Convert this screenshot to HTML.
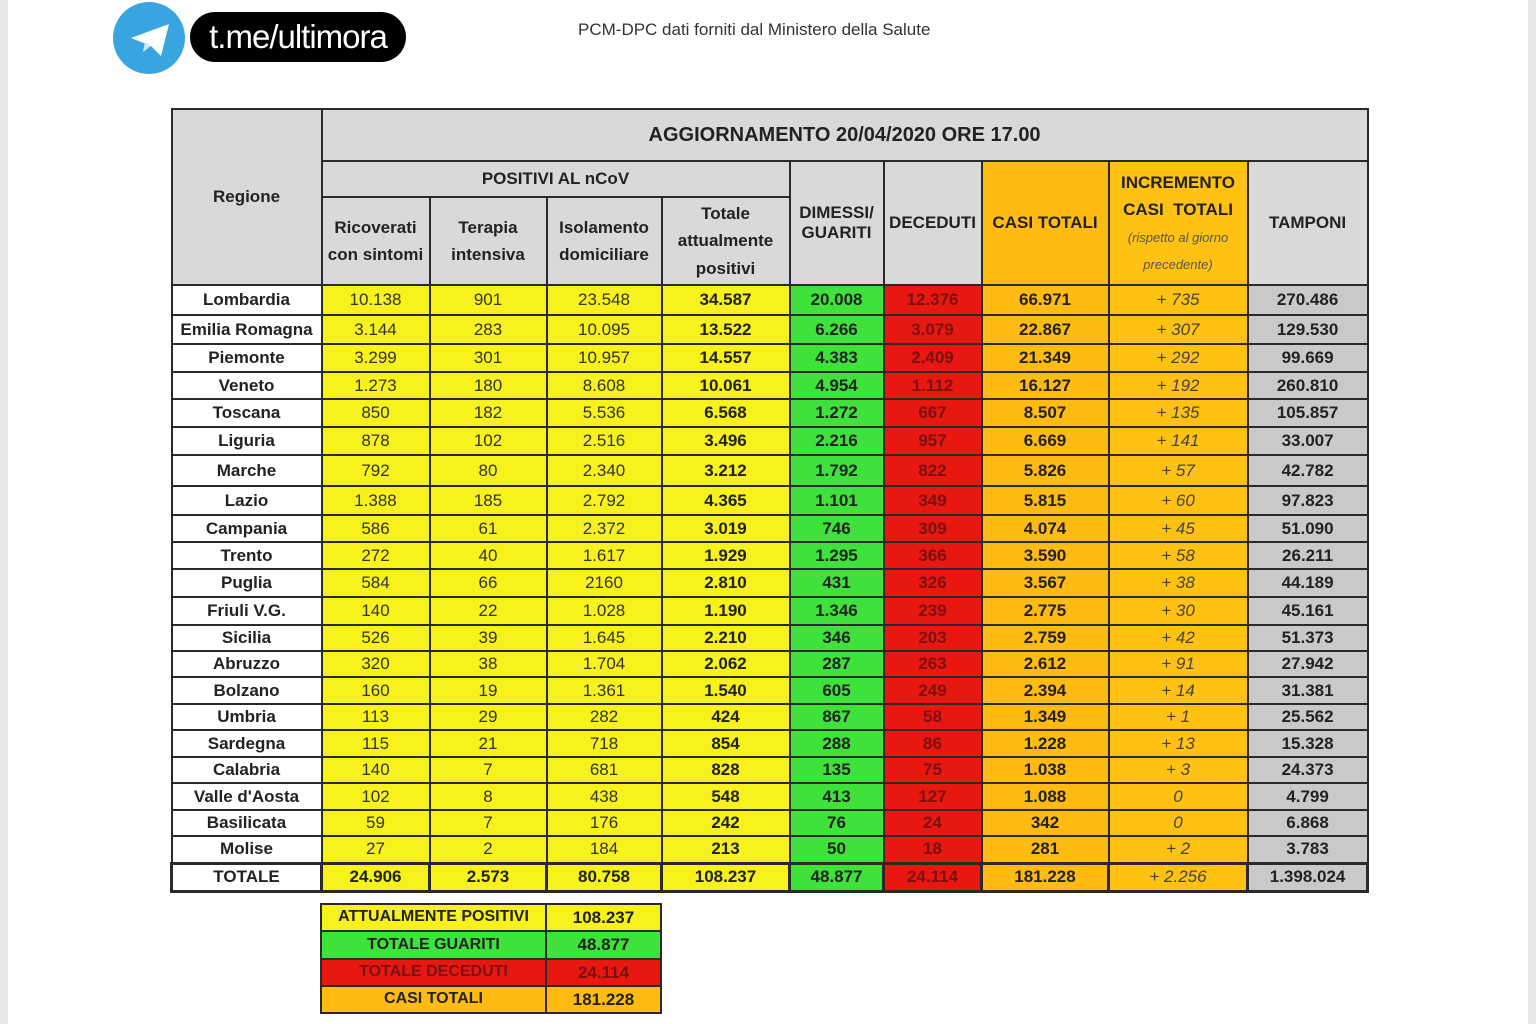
<!DOCTYPE html>
<html><head><meta charset="utf-8"><style>
body{margin:0;width:1536px;height:1024px;background:#fff;position:relative;overflow:hidden;font-family:"Liberation Sans",sans-serif;}
.edge{position:absolute;top:0;bottom:0;width:8px;background:#e8e8e8}
table{border-collapse:collapse;table-layout:fixed;position:absolute;}
td{border:2px solid #2a2a2a;text-align:center;padding:0;font-size:17px;color:#333;line-height:1.15;overflow:hidden;white-space:nowrap}
#t td{font-size:17px}
.h{background:#d9d9d9;font-weight:bold;color:#222;font-size:16px;white-space:normal}
.r{font-weight:bold;color:#222;background:#fff}
.y{background:#f7f21c}
.yb{background:#f7f21c;font-weight:bold;color:#222}
.g{background:#3ee23a;font-weight:bold;color:#222}
.d{background:#e8170f;color:#7a1010;font-weight:bold}
.o{background:#ffbb12;font-weight:bold;color:#222}
.i{background:#ffc213;font-style:italic;color:#444}
.p{background:#c9c9c9;font-weight:bold;color:#222}
.ho{background:#ffbb12;font-weight:bold;color:#222;font-size:16px;white-space:normal}
.hi{background:#ffc213;font-weight:bold;color:#222;font-size:16px;white-space:normal}
tr.tot td{border-width:3px}
</style></head><body>
<div class="edge" style="left:0"></div><div class="edge" style="right:0"></div>
<div style="position:absolute;left:113px;top:2px;width:72px;height:72px;border-radius:50%;background:#38a5e0"></div>
<svg style="position:absolute;left:113px;top:2px" width="72" height="72"><path d="M18 36 L56 22 L48 54 L38 44 Z" fill="#fff"/><path d="M38 44 L30 50 L32 40 Z" fill="#d0e8f5"/></svg>
<div style="position:absolute;left:190px;top:12px;width:216px;height:50px;border-radius:25px;background:#000;color:#fff;font-size:33px;line-height:50px;text-align:center;letter-spacing:-1px">t.me/ultimora</div>
<div style="position:absolute;left:578px;top:20px;font-size:17px;color:#333">PCM-DPC dati forniti dal Ministero della Salute</div>

<table id="t" style="left:170px;top:108px;width:1196px">
<colgroup><col style="width:150px"><col style="width:108px"><col style="width:117px"><col style="width:115px"><col style="width:128px"><col style="width:94px"><col style="width:98px"><col style="width:127px"><col style="width:139px"><col style="width:120px"></colgroup>
<tr style="height:52px"><td class="h" rowspan="3" style="background:#d9d9d9">Regione</td><td class="h" colspan="9" style="font-size:20px">AGGIORNAMENTO 20/04/2020 ORE 17.00</td></tr>
<tr style="height:36px"><td class="h" colspan="4">POSITIVI AL nCoV</td><td class="h" rowspan="2">DIMESSI/<br>GUARITI</td><td class="h" rowspan="2">DECEDUTI</td><td class="ho" rowspan="2">CASI TOTALI</td><td class="hi" rowspan="2" style="line-height:1.6">INCREMENTO<br>CASI&nbsp; TOTALI<br><span style="font-size:13px;font-weight:normal;font-style:italic;color:#555;line-height:1.5">(rispetto al giorno<br>precedente)</span></td><td class="h" rowspan="2">TAMPONI</td></tr>
<tr style="height:88px"><td class="h" style="line-height:1.6">Ricoverati<br>con sintomi</td><td class="h" style="line-height:1.6">Terapia<br>intensiva</td><td class="h" style="line-height:1.6">Isolamento<br>domiciliare</td><td class="h" style="line-height:1.6">Totale<br>attualmente<br>positivi</td></tr>
<tr style="height:30px"><td class="r">Lombardia</td><td class="y">10.138</td><td class="y">901</td><td class="y">23.548</td><td class="yb">34.587</td><td class="g">20.008</td><td class="d">12.376</td><td class="o">66.971</td><td class="i">+ 735</td><td class="p">270.486</td></tr>
<tr style="height:29px"><td class="r">Emilia Romagna</td><td class="y">3.144</td><td class="y">283</td><td class="y">10.095</td><td class="yb">13.522</td><td class="g">6.266</td><td class="d">3.079</td><td class="o">22.867</td><td class="i">+ 307</td><td class="p">129.530</td></tr>
<tr style="height:28px"><td class="r">Piemonte</td><td class="y">3.299</td><td class="y">301</td><td class="y">10.957</td><td class="yb">14.557</td><td class="g">4.383</td><td class="d">2.409</td><td class="o">21.349</td><td class="i">+ 292</td><td class="p">99.669</td></tr>
<tr style="height:27px"><td class="r">Veneto</td><td class="y">1.273</td><td class="y">180</td><td class="y">8.608</td><td class="yb">10.061</td><td class="g">4.954</td><td class="d">1.112</td><td class="o">16.127</td><td class="i">+ 192</td><td class="p">260.810</td></tr>
<tr style="height:28px"><td class="r">Toscana</td><td class="y">850</td><td class="y">182</td><td class="y">5.536</td><td class="yb">6.568</td><td class="g">1.272</td><td class="d">667</td><td class="o">8.507</td><td class="i">+ 135</td><td class="p">105.857</td></tr>
<tr style="height:28px"><td class="r">Liguria</td><td class="y">878</td><td class="y">102</td><td class="y">2.516</td><td class="yb">3.496</td><td class="g">2.216</td><td class="d">957</td><td class="o">6.669</td><td class="i">+ 141</td><td class="p">33.007</td></tr>
<tr style="height:31px"><td class="r">Marche</td><td class="y">792</td><td class="y">80</td><td class="y">2.340</td><td class="yb">3.212</td><td class="g">1.792</td><td class="d">822</td><td class="o">5.826</td><td class="i">+ 57</td><td class="p">42.782</td></tr>
<tr style="height:29px"><td class="r">Lazio</td><td class="y">1.388</td><td class="y">185</td><td class="y">2.792</td><td class="yb">4.365</td><td class="g">1.101</td><td class="d">349</td><td class="o">5.815</td><td class="i">+ 60</td><td class="p">97.823</td></tr>
<tr style="height:27px"><td class="r">Campania</td><td class="y">586</td><td class="y">61</td><td class="y">2.372</td><td class="yb">3.019</td><td class="g">746</td><td class="d">309</td><td class="o">4.074</td><td class="i">+ 45</td><td class="p">51.090</td></tr>
<tr style="height:27px"><td class="r">Trento</td><td class="y">272</td><td class="y">40</td><td class="y">1.617</td><td class="yb">1.929</td><td class="g">1.295</td><td class="d">366</td><td class="o">3.590</td><td class="i">+ 58</td><td class="p">26.211</td></tr>
<tr style="height:28px"><td class="r">Puglia</td><td class="y">584</td><td class="y">66</td><td class="y">2160</td><td class="yb">2.810</td><td class="g">431</td><td class="d">326</td><td class="o">3.567</td><td class="i">+ 38</td><td class="p">44.189</td></tr>
<tr style="height:28px"><td class="r">Friuli V.G.</td><td class="y">140</td><td class="y">22</td><td class="y">1.028</td><td class="yb">1.190</td><td class="g">1.346</td><td class="d">239</td><td class="o">2.775</td><td class="i">+ 30</td><td class="p">45.161</td></tr>
<tr style="height:26px"><td class="r">Sicilia</td><td class="y">526</td><td class="y">39</td><td class="y">1.645</td><td class="yb">2.210</td><td class="g">346</td><td class="d">203</td><td class="o">2.759</td><td class="i">+ 42</td><td class="p">51.373</td></tr>
<tr style="height:26px"><td class="r">Abruzzo</td><td class="y">320</td><td class="y">38</td><td class="y">1.704</td><td class="yb">2.062</td><td class="g">287</td><td class="d">263</td><td class="o">2.612</td><td class="i">+ 91</td><td class="p">27.942</td></tr>
<tr style="height:27px"><td class="r">Bolzano</td><td class="y">160</td><td class="y">19</td><td class="y">1.361</td><td class="yb">1.540</td><td class="g">605</td><td class="d">249</td><td class="o">2.394</td><td class="i">+ 14</td><td class="p">31.381</td></tr>
<tr style="height:26px"><td class="r">Umbria</td><td class="y">113</td><td class="y">29</td><td class="y">282</td><td class="yb">424</td><td class="g">867</td><td class="d">58</td><td class="o">1.349</td><td class="i">+ 1</td><td class="p">25.562</td></tr>
<tr style="height:27px"><td class="r">Sardegna</td><td class="y">115</td><td class="y">21</td><td class="y">718</td><td class="yb">854</td><td class="g">288</td><td class="d">86</td><td class="o">1.228</td><td class="i">+ 13</td><td class="p">15.328</td></tr>
<tr style="height:26px"><td class="r">Calabria</td><td class="y">140</td><td class="y">7</td><td class="y">681</td><td class="yb">828</td><td class="g">135</td><td class="d">75</td><td class="o">1.038</td><td class="i">+ 3</td><td class="p">24.373</td></tr>
<tr style="height:27px"><td class="r">Valle d'Aosta</td><td class="y">102</td><td class="y">8</td><td class="y">438</td><td class="yb">548</td><td class="g">413</td><td class="d">127</td><td class="o">1.088</td><td class="i">0</td><td class="p">4.799</td></tr>
<tr style="height:26px"><td class="r">Basilicata</td><td class="y">59</td><td class="y">7</td><td class="y">176</td><td class="yb">242</td><td class="g">76</td><td class="d">24</td><td class="o">342</td><td class="i">0</td><td class="p">6.868</td></tr>
<tr style="height:27px"><td class="r">Molise</td><td class="y">27</td><td class="y">2</td><td class="y">184</td><td class="yb">213</td><td class="g">50</td><td class="d">18</td><td class="o">281</td><td class="i">+ 2</td><td class="p">3.783</td></tr>
<tr class="tot" style="height:28px"><td class="r">TOTALE</td><td class="yb">24.906</td><td class="yb">2.573</td><td class="yb">80.758</td><td class="yb">108.237</td><td class="g">48.877</td><td class="d">24.114</td><td class="o">181.228</td><td class="i">+ 2.256</td><td class="p">1.398.024</td></tr>
</table>

<table style="left:320px;top:903px;width:340px">
<colgroup><col style="width:225px"><col style="width:115px"></colgroup>
<tr style="height:27px"><td class="yb" style="font-size:16px">ATTUALMENTE POSITIVI</td><td class="yb">108.237</td></tr>
<tr style="height:28px"><td class="g" style="font-size:16px">TOTALE GUARITI</td><td class="g">48.877</td></tr>
<tr style="height:27px"><td class="d" style="font-size:16px">TOTALE DECEDUTI</td><td class="d">24.114</td></tr>
<tr style="height:27px"><td class="o" style="font-size:16px">CASI TOTALI</td><td class="o">181.228</td></tr>
</table>
</body></html>
